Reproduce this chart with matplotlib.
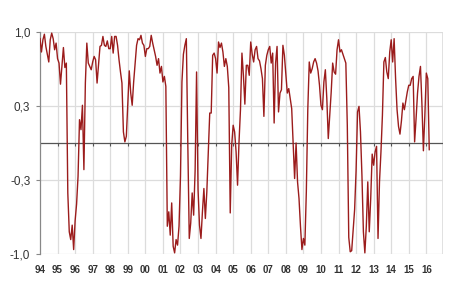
import matplotlib
matplotlib.use("Agg")
import matplotlib.pyplot as plt
import numpy as np

# Monthly values (Jan 1994 .. Mar 2016)
y1994 = [0.94, 0.82, 0.93, 0.98, 0.87, 0.80, 0.73, 0.93, 0.99, 0.94, 0.84, 0.90]
y1995 = [0.76, 0.72, 0.53, 0.70, 0.86, 0.68, 0.72, -0.45, -0.80, -0.87, -0.74, -0.96]
y1996 = [-0.70, -0.55, -0.30, 0.21, 0.12, 0.34, -0.24, 0.54, 0.90, 0.72, 0.69, 0.66]
y1997 = [0.73, 0.78, 0.75, 0.54, 0.70, 0.87, 0.88, 0.96, 0.88, 0.87, 0.92, 0.85]
y1998 = [0.85, 0.96, 0.81, 0.96, 0.96, 0.88, 0.75, 0.64, 0.54, 0.10, 0.01, 0.06]
y1999 = [0.35, 0.65, 0.45, 0.34, 0.55, 0.72, 0.88, 0.94, 0.93, 0.97, 0.90, 0.88]
y2000 = [0.78, 0.85, 0.85, 0.87, 0.97, 0.90, 0.84, 0.78, 0.70, 0.76, 0.63, 0.69]
y2001 = [0.55, 0.60, 0.51, -0.75, -0.62, -0.83, -0.54, -0.93, -0.99, -0.87, -0.92, -0.75]
y2002 = [-0.30, 0.55, 0.80, 0.88, 0.94, 0.00, -0.86, -0.72, -0.45, -0.65, -0.25, 0.64]
y2003 = [-0.42, -0.74, -0.86, -0.62, -0.41, -0.68, -0.44, -0.08, 0.27, 0.27, 0.79, 0.81]
y2004 = [0.76, 0.63, 0.91, 0.86, 0.90, 0.82, 0.69, 0.76, 0.69, 0.50, -0.63, -0.02]
y2005 = [0.16, 0.10, -0.08, -0.38, 0.01, 0.30, 0.81, 0.61, 0.35, 0.70, 0.70, 0.61]
y2006 = [0.91, 0.80, 0.73, 0.84, 0.87, 0.76, 0.74, 0.67, 0.58, 0.24, 0.70, 0.79]
y2007 = [0.84, 0.87, 0.72, 0.81, 0.18, 0.72, 0.87, 0.28, 0.45, 0.48, 0.88, 0.79]
y2008 = [0.62, 0.45, 0.49, 0.40, 0.31, 0.00, -0.32, 0.00, -0.35, -0.50, -0.75, -0.96]
y2009 = [-0.86, -0.92, -0.44, 0.30, 0.73, 0.63, 0.67, 0.73, 0.76, 0.72, 0.65, 0.52]
y2010 = [0.34, 0.30, 0.55, 0.66, 0.40, 0.04, 0.25, 0.46, 0.72, 0.64, 0.62, 0.84]
y2011 = [0.93, 0.82, 0.84, 0.80, 0.76, 0.72, 0.16, -0.85, -0.98, -0.97, -0.78, -0.60]
y2012 = [-0.25, 0.28, 0.33, 0.10, -0.29, -0.80, -0.99, -0.75, -0.35, -0.80, -0.50, -0.10]
y2013 = [-0.20, -0.08, -0.03, -0.86, -0.35, -0.08, 0.25, 0.73, 0.77, 0.64, 0.58, 0.82]
y2014 = [0.93, 0.73, 0.94, 0.58, 0.30, 0.15, 0.08, 0.20, 0.36, 0.30, 0.38, 0.46]
y2015 = [0.52, 0.52, 0.58, 0.60, 0.01, 0.22, 0.45, 0.60, 0.69, 0.35, -0.07, 0.25]
y2016 = [0.63, 0.58, -0.06]

values = (y1994 + y1995 + y1996 + y1997 + y1998 + y1999 + y2000 + y2001 + y2002
          + y2003 + y2004 + y2005 + y2006 + y2007 + y2008 + y2009 + y2010 + y2011
          + y2012 + y2013 + y2014 + y2015 + y2016)
start_year = 1994
years = list(range(1994, 2017))
year_labels = ["94", "95", "96", "97", "98", "99", "00", "01", "02", "03", "04",
               "05", "06", "07", "08", "09", "10", "11", "12", "13", "14", "15", "16"]
y_ticks = [-1.0, -1/3, 1/3, 1.0]
y_labels = ["-1,0", "-0,3", "0,3", "1,0"]

x = start_year + np.arange(len(values)) / 12.0

fig = plt.figure(figsize=(4.5, 2.91), dpi=100)
ax = fig.add_axes([40/450, 1 - 254/291, 403/450, 222/291])

ax.set_xlim(1994, 2016.95)
ax.set_ylim(-1.0, 1.0)

grid_c = "#dcdcdc"
for yr in years[1:]:
    ax.axvline(yr, color=grid_c, lw=0.9, zorder=1)
ax.axvline(2016.95, color=grid_c, lw=1.2, zorder=1)
for yt in y_ticks:
    ax.axhline(yt, color=grid_c, lw=0.9, zorder=1)

ax.axhline(0, color="#555555", lw=0.9, zorder=2)
ax.vlines(years, -0.03, 0, color="#555555", lw=0.8, zorder=2)

ax.plot(x, values, color="#9b1c1c", lw=1.0, zorder=3)

for s in ["top", "right", "bottom"]:
    ax.spines[s].set_visible(False)
ax.spines["left"].set_color("#888888")
ax.spines["left"].set_linewidth(0.9)

ax.set_yticks(y_ticks)
ax.set_yticklabels(y_labels, fontsize=8.5, color="#333333", family="Liberation Sans")
ax.tick_params(axis="y", length=3, width=0.8, color="#888888", pad=4)

ax.set_xticks(years)
ax.set_xticklabels(year_labels, fontsize=7, fontweight="bold", color="#333333",
                   family="Liberation Sans")
ax.tick_params(axis="x", length=0, pad=8)

fig.savefig("out.png", dpi=100, facecolor="white")
